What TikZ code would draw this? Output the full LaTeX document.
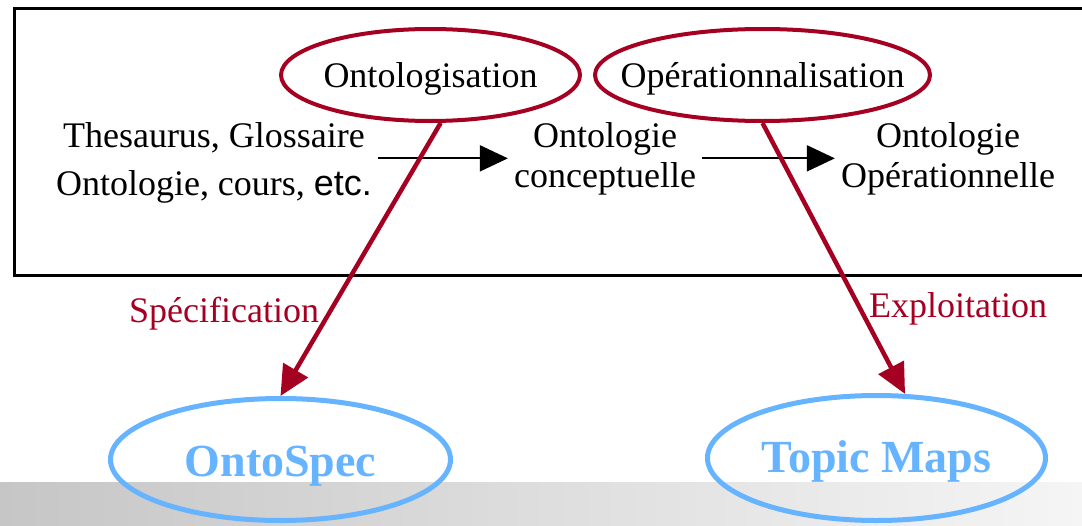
\documentclass[tikz,border=0pt]{standalone}
\usepackage{fontspec}
\setmainfont{Liberation Serif}
\newfontfamily\arialfont{Liberation Sans}
\usetikzlibrary{shapes.geometric,arrows.meta}
\definecolor{crimson}{RGB}{165,0,33}
\definecolor{skyblue}{RGB}{102,179,255}
\definecolor{barleft}{RGB}{198,198,198}
\definecolor{barright}{RGB}{245,245,245}
\begin{document}
\begin{tikzpicture}[x=1pt,y=-1pt,
  txt/.style={font=\fontsize{36}{40}\selectfont, inner sep=6pt, align=center},
  proc/.style={ellipse, draw=crimson, line width=4pt, inner ysep=0pt, inner xsep=-50pt, font=\fontsize{36}{40}\selectfont, text height=24pt, text depth=0pt},
  tool/.style={ellipse, draw=skyblue, line width=5pt, inner ysep=0pt, inner xsep=-20pt, font=\fontsize{46}{50}\selectfont\bfseries, text=skyblue, text depth=0pt},
  flow/.style={line width=2pt, -{Triangle[length=28pt,width=26pt]}},
  use/.style={draw=crimson, line width=4.5pt, -{Triangle[length=30pt,width=28pt]}},
  lbl/.style={font=\fontsize{36}{40}\selectfont, text=crimson, inner sep=0pt, anchor=base west}
]
\useasboundingbox (0,0) rectangle (1082,525);
\clip (0,0) rectangle (1082,525);
\shade[left color=barleft, right color=barright] (0,482) rectangle (1082,525);
\draw[line width=3pt] (14.5,8.5) rectangle (1090,275);

\node[proc, minimum width=299pt, minimum height=92pt] (ontolog) at (430.5,75) {Ontologisation};
\node[proc, minimum width=335pt, minimum height=92pt] (operat) at (762.5,75) {Opérationnalisation};

\node[txt, anchor=base] (src) at (214,195) {Thesaurus, Glossaire\\[8pt]Ontologie, cours, {\arialfont etc.}};
\node[txt, anchor=base] (conc) at (605,187) {Ontologie\\conceptuelle};
\node[txt, anchor=base] (opont) at (948,187) {Ontologie\\Opérationnelle};

\node[tool, minimum width=340pt, minimum height=122pt, text height=34pt] (ontospec) at (280.5,459.5) {OntoSpec};
\node[tool, minimum width=338pt, minimum height=125pt, text height=28pt] (topic) at (876.5,458) {Topic Maps};

\node[lbl] (spec) at (129,322) {Spécification};
\node[lbl] (expl) at (869,317) {Exploitation};

\draw[flow] (src.east |- conc.west) -- (conc.west);
\draw[flow] (conc.east) -- (opont.west |- conc.east);

\draw[use] (ontolog.-78) -- (ontospec.north);
\draw[use] (operat.-90) -- (topic.66);
\end{tikzpicture}
\end{document}
